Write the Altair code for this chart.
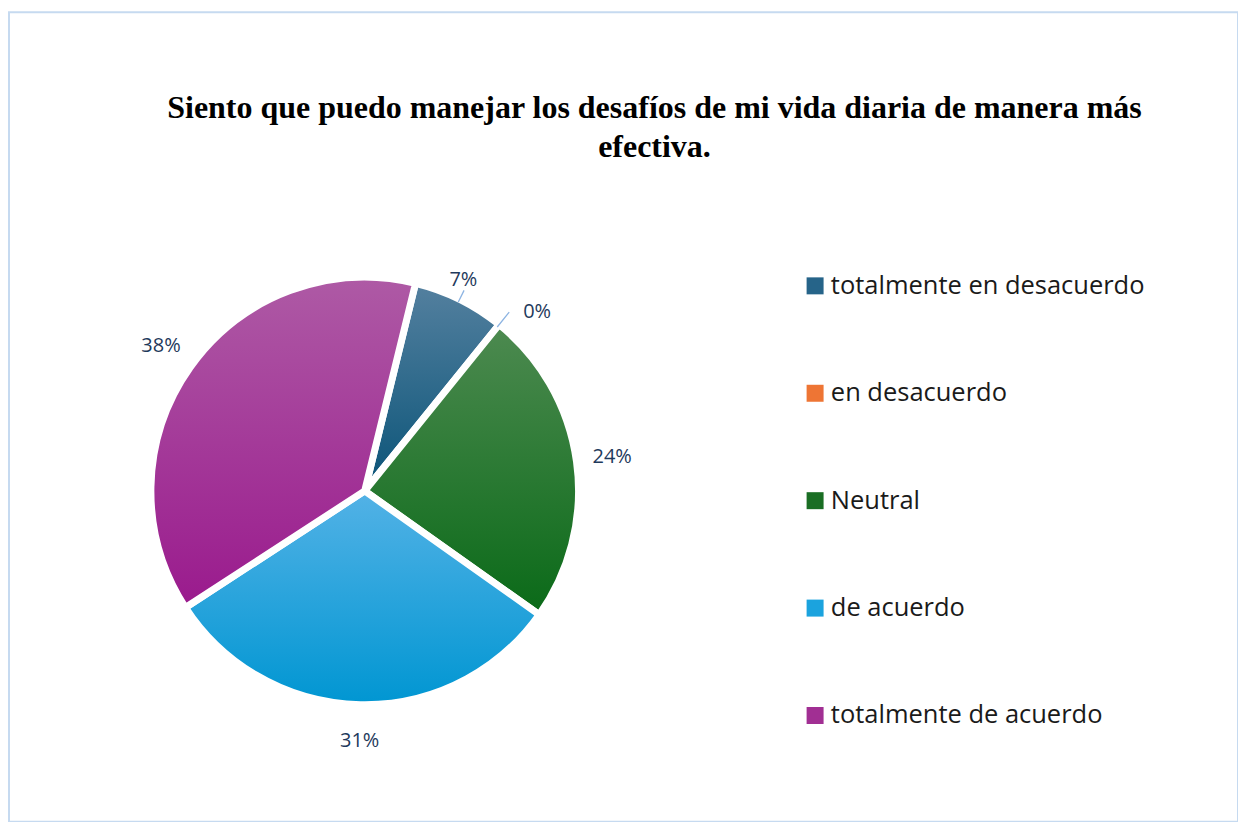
import math
import altair as alt
import pandas as pd

# ---- data ----
categories = ["totalmente en desacuerdo", "en desacuerdo", "Neutral", "de acuerdo", "\u2002totalmente de acuerdo"]
values = [7, 0, 24, 31, 38]
labels = ["7%", "0%", "24%", "31%", "38%"]
title_lines = ["Siento que puedo manejar los desafíos de mi vida diaria de manera más", "efectiva."]

# ---- styles ----
grad_top = ["#54809F", "#F2925A", "#4D8A50", "#53B2E6", "#AE5AA5"]
grad_bot = ["#0A5478", "#E6621C", "#0A6A18", "#0096D2", "#9A1A8D"]
flat = ["#266489", "#EE7534", "#1A6E24", "#1BA3DE", "#A12F93"]

df = pd.DataFrame({"cat": categories, "value": values, "label": labels, "order": list(range(len(values)))})

CX, CY, R = 356, 479, 214
start = 0.24
theta_scale = alt.Scale(domain=[0, 100], range=[start, start + 2 * math.pi])

base = (
    alt.Chart(df)
    .transform_window(end="sum(value)", sort=[alt.SortField("order")], frame=[None, 0])
    .transform_calculate(start="datum.end - datum.value", mid="datum.end - datum.value / 2")
)

layers = []
# invisible layer carrying the legend
layers.append(
    base.mark_arc(radius=R, opacity=0).encode(
        theta=alt.Theta("start:Q", scale=theta_scale),
        theta2="end:Q",
        x=alt.value(CX), y=alt.value(CY),
        color=alt.Color(
            "cat:N",
            sort=None,
            scale=alt.Scale(domain=categories, range=flat),
            legend=alt.Legend(
                title=None, orient="none", legendX=794, legendY=261,
                symbolType="square", symbolSize=289, symbolStrokeWidth=0, symbolOpacity=1,
                labelFont="Open Sans", labelFontSize=25.5, labelColor="#1a1a1a",
                labelOffset=3, rowPadding=80.5, labelLimit=450,
            ),
        ),
    )
)

for i, cat in enumerate(categories):
    if values[i] <= 0:
        continue
    g = alt.Gradient(
        gradient="linear", x1=0, x2=0, y1=0, y2=1,
        stops=[alt.GradientStop(color=grad_top[i], offset=0), alt.GradientStop(color=grad_bot[i], offset=1)],
    )
    layers.append(
        base.transform_filter(alt.datum.cat == cat)
        .mark_arc(radius=R, fill=g, stroke="white", strokeWidth=7)
        .encode(
            theta=alt.Theta("start:Q", scale=theta_scale),
            theta2="end:Q",
            x=alt.value(CX), y=alt.value(CY),
        )
    )

# leader lines for small slices
layers.append(
    base.transform_filter(alt.datum.order == 0)
    .mark_arc(radius=224, radius2=211, stroke="#8DB4E2", strokeWidth=1.3, fillOpacity=0)
    .encode(theta=alt.Theta("mid:Q", scale=theta_scale), theta2="mid:Q", x=alt.value(CX), y=alt.value(CY))
)
layers.append(
    base.transform_filter(alt.datum.order == 1)
    .mark_arc(radius=230, radius2=211, stroke="#8DB4E2", strokeWidth=1.3, fillOpacity=0)
    .encode(theta=alt.Theta("mid:Q", scale=theta_scale), theta2="mid:Q", x=alt.value(CX), y=alt.value(CY))
)

label_style = dict(font="Open Sans", fontSize=20, color="#1F3A5C")
layers.append(
    base.transform_filter(alt.datum.value >= 10)
    .mark_text(radius=250, baseline="middle", align="center", **label_style)
    .encode(theta=alt.Theta("mid:Q", scale=theta_scale), text="label:N", x=alt.value(CX), y=alt.value(CY))
)
layers.append(
    base.transform_filter(alt.datum.order == 0)
    .mark_text(radius=236, baseline="middle", align="center", dx=-6, **label_style)
    .encode(theta=alt.Theta("mid:Q", scale=theta_scale), text="label:N", x=alt.value(CX), y=alt.value(CY))
)
layers.append(
    base.transform_filter(alt.datum.order == 1)
    .mark_text(radius=230, baseline="middle", align="left", dx=14, **label_style)
    .encode(theta=alt.Theta("mid:Q", scale=theta_scale), text="label:N", x=alt.value(CX), y=alt.value(CY))
)

# title
layers.append(
    alt.Chart(pd.DataFrame({"t": [0]}))
    .mark_text(font="Liberation Serif", fontSize=32, fontWeight="bold", color="#000000",
               align="center", baseline="alphabetic", lineHeight=39)
    .encode(x=alt.value(646), y=alt.value(106), text=alt.value(title_lines))
)

chart = (
    alt.layer(*layers)
    .properties(width=1230, height=810, padding={"left": 1, "top": 4, "right": 0, "bottom": 0})
    .configure_view(stroke="#C6DAF0", strokeWidth=2)
)

chart.save("out.html", embed_options={"renderer": "svg", "actions": False})
